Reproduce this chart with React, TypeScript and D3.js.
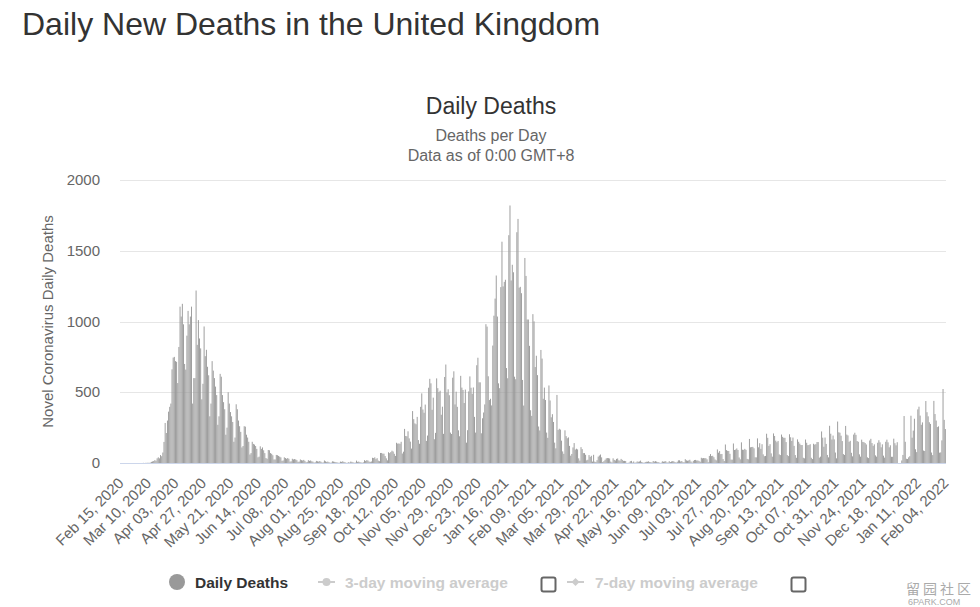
import * as d3 from 'd3';

const W = 980;
const H = 607;
const M = { left: 120, right: 946, top: 180, bottom: 463 };

const startDate = new Date(2020, 1, 15);

// daily reported deaths, rows are weeks Mon..Sun (first row is Sat/Sun)
const early2020 = [
  0, 0,
  0, 0, 0, 0, 0, 0, 0,
  0, 0, 0, 0, 0, 0, 0,
  0, 0, 0, 0, 1, 0, 1,
  1, 2, 1, 3, 8, 11, 14,
  20, 16, 33, 40, 33, 56, 48,
];
const wave1 = [
  74, 149, 283, 212, 300, 363, 397,
  420, 662, 745, 750, 720, 715, 565,
  820, 1105, 1035, 1125, 980, 700, 660,
  900, 1075, 980, 1035, 1105, 420, 600,
  600, 1219, 835, 1010, 880, 810, 450,
  560, 965, 755, 800, 680, 620, 330,
  420, 720, 653, 600, 540, 480, 270,
  330, 630, 610, 480, 430, 380, 200,
  250, 500, 420, 360, 330, 290, 150,
  180, 415, 380, 300, 260, 220, 110,
  120, 260, 257, 200, 180, 150, 60,
  70, 150, 135, 130, 120, 100, 40,
];
const summer2020 = [
  45, 118, 100, 110, 90, 70, 35,
  30, 92, 90, 70, 65, 55, 25,
  25, 57, 55, 50, 45, 40, 15,
  18, 40, 35, 30, 35, 30, 10,
  12, 30, 25, 28, 25, 20, 8,
  10, 25, 20, 18, 22, 15, 5,
  8, 20, 15, 18, 12, 10, 3,
  5, 15, 12, 10, 14, 9, 3,
  4, 18, 12, 8, 10, 6, 2,
  3, 12, 10, 8, 6, 5, 2,
  2, 10, 8, 12, 8, 6, 1,
  2, 5, 3, 10, 8, 5, 2,
  3, 17, 8, 10, 6, 4, 2,
  5, 20, 15, 20, 18, 10, 8,
  11, 37, 35, 40, 27, 34, 17,
  13, 71, 71, 66, 66, 49, 33,
];
const wave2 = [
  19, 76, 70, 77, 87, 81, 65,
  50, 143, 137, 138, 136, 150, 67,
  80, 241, 191, 189, 224, 174, 151,
  102, 367, 310, 280, 274, 326, 162,
  136, 397, 492, 378, 355, 413, 156,
  194, 532, 595, 563, 376, 462, 168,
  213, 598, 529, 501, 511, 341, 398,
  206, 608, 696, 498, 521, 479, 215,
  205, 603, 648, 414, 504, 397, 231,
  189, 616, 533, 516, 424, 519, 144,
  232, 506, 612, 532, 489, 534, 326,
  215, 691, 744, 570, 570, 210, 316,
  357, 414, 981, 964, 613, 445, 454,
  407, 830, 1041, 1162, 1325, 1035, 563,
  529, 1243, 1564, 1248, 1280, 1295, 671,
  599, 1610, 1820, 1290, 1401, 1348, 610,
  592, 1631, 1725, 1239, 1245, 1200, 587,
  406, 1449, 1322, 1014, 1014, 828, 373,
  333, 1052, 1001, 678, 758, 621, 258,
  230, 799, 738, 454, 533, 445, 215,
  178, 548, 442, 323, 345, 290, 144,
  104, 481, 233, 242, 236, 158, 82,
  65, 231, 190, 175, 181, 121, 52,
  64, 110, 141, 95, 101, 96, 33,
  17, 112, 98, 70, 70, 58, 19,
];
const spring2021 = [
  23, 56, 43, 51, 10, 58, 10,
  7, 20, 45, 53, 60, 40, 7,
  13, 23, 33, 35, 34, 32, 10,
  4, 33, 22, 18, 29, 32, 19,
  17, 29, 22, 15, 15, 14, 1,
  1, 4, 13, 15, 3, 11, 2,
  4, 11, 9, 11, 17, 7, 4,
  1, 7, 9, 9, 12, 7, 6,
  4, 14, 10, 13, 10, 6, 6,
  0, 3, 12, 9, 11, 13, 4,
  4, 13, 7, 11, 13, 12, 7,
  3, 9, 19, 19, 11, 14, 6,
  5, 27, 19, 16, 18, 23, 11,
  3, 15, 21, 22, 18, 18, 15,
  9, 37, 33, 35, 34, 34, 26,
];
const delta2021 = [
  6, 50, 63, 49, 51, 41, 25,
  19, 96, 73, 84, 63, 64, 28,
  14, 131, 91, 86, 85, 65, 24,
  24, 138, 92, 95, 103, 92, 39,
  26, 146, 94, 93, 100, 93, 29,
  26, 170, 111, 113, 114, 104, 40,
  40, 174, 111, 140, 100, 133, 61,
  48, 50, 207, 178, 121, 133, 68,
  45, 209, 191, 158, 147, 156, 61,
  56, 201, 185, 178, 178, 148, 56,
  49, 203, 182, 156, 180, 121, 56,
  37, 167, 150, 137, 127, 127, 37,
  33, 166, 143, 126, 127, 133, 37,
  28, 136, 130, 133, 148, 148, 38,
  45, 223, 179, 115, 180, 135, 57,
  40, 263, 207, 166, 194, 167, 74,
  33, 293, 217, 214, 193, 155, 63,
  57, 262, 201, 195, 150, 157, 72,
  47, 201, 214, 199, 155, 150, 61,
  45, 165, 149, 147, 141, 131, 40,
  35, 159, 171, 141, 121, 132, 54,
  45, 143, 161, 146, 111, 132, 52,
  38, 150, 165, 146, 111, 125, 44,
  44, 172, 140, 125, 147, 0, 0,
  0, 18, 57, 332, 150, 30, 28,
];
const omicron2022 = [
  40, 48, 334, 179, 229, 313, 97,
  77, 379, 398, 335, 270, 287, 88,
  85, 438, 359, 330, 288, 276, 74,
  56, 439, 346, 300, 254, 259, 73,
  75, 160, 523, 305, 240,
];

const deaths = [...early2020, ...wave1, ...summer2020, ...wave2, ...spring2021, ...delta2021, ...omicron2022];
const yTicks = [0, 500, 1000, 1500, 2000];
const tickEvery = 24;

const FONT = '"Liberation Sans", Arial, Helvetica, sans-serif';

export default function App() {
  const x = d3.scaleBand<number>().domain(d3.range(deaths.length)).range([M.left, M.right]).padding(0);
  const y = d3.scaleLinear([0, 2000], [M.bottom, M.top]);
  const bw = x.bandwidth();
  const fmt = d3.timeFormat('%b %d, %Y');
  const xTicks = d3.range(0, deaths.length, tickEvery);

  return (
    <div style={{ position: 'absolute', left: 0, top: 0 }}>
      <svg width={W} height={H} style={{ display: 'block', fontFamily: FONT, background: '#fff' }}>
        <text x={22} y={35} fontSize={32} fill="#333">Daily New Deaths in the United Kingdom</text>

        <text x={491} y={114} fontSize={23} fill="#333" textAnchor="middle">Daily Deaths</text>
        <text x={491} y={141} fontSize={16} fill="#666" textAnchor="middle">Deaths per Day</text>
        <text x={491} y={161} fontSize={16} fill="#666" textAnchor="middle">Data as of 0:00 GMT+8</text>

        {/* grid + y labels */}
        {yTicks.map(t => (
          <g key={t}>
            {t > 0 && <line x1={M.left} x2={M.right} y1={Math.round(y(t)) + 0.5} y2={Math.round(y(t)) + 0.5} stroke="#e6e6e6" />}
            <text x={100} y={y(t) + 5} fontSize={15} fill="#666" textAnchor="end">{t}</text>
          </g>
        ))}
        <text transform={`translate(53,${(M.top + M.bottom) / 2}) rotate(-90)`} fontSize={15} fill="#666" textAnchor="middle">
          Novel Coronavirus Daily Deaths
        </text>

        {/* bars */}
        <g fill="#999">
          {deaths.map((v, i) => v > 0 && (
            <rect key={i} x={x(i)!} width={bw * 0.82} y={y(v)} height={M.bottom - y(v)} />
          ))}
        </g>

        <line x1={M.left} x2={M.right} y1={M.bottom + 0.5} y2={M.bottom + 0.5} stroke="#ccd6eb" />

        {/* x labels */}
        {xTicks.map(i => {
          const cx = x(i)! + bw / 2 + 4;
          const cy = 484;
          return (
            <text key={i} transform={`translate(${cx},${cy}) rotate(-45)`} fontSize={15} fill="#666" textAnchor="end">
              {fmt(d3.timeDay.offset(startDate, i))}
            </text>
          );
        })}

        {/* legend */}
        <circle cx={177} cy={582} r={8} fill="#999" />
        <text x={195} y={588} fontSize={15.5} fontWeight="bold" fill="#333">Daily Deaths</text>

        <line x1={318} x2={335} y1={582} y2={582} stroke="#ccc" strokeWidth={2} />
        <circle cx={326.5} cy={582} r={4} fill="#ccc" />
        <text x={345} y={588} fontSize={15.5} fontWeight="bold" fill="#ccc">3-day moving average</text>
        <rect x={541.5} y={577.5} width={14} height={14} rx={2} fill="#fff" stroke="#666" strokeWidth={2} />

        <line x1={567} x2={584} y1={582} y2={582} stroke="#ccc" strokeWidth={2} />
        <path d="M575.5,578 L579.5,582 L575.5,586 L571.5,582 Z" fill="#ccc" />
        <text x={595} y={588} fontSize={15.5} fontWeight="bold" fill="#ccc">7-day moving average</text>
        <rect x={791.5} y={577.5} width={14} height={14} rx={2} fill="#fff" stroke="#666" strokeWidth={2} />

        {/* watermark */}
        <text x={906} y={594} fontSize={14} fill="#aaa" letterSpacing={3} fontFamily='"Noto Sans CJK SC", sans-serif'>留园社区</text>
        <text x={908} y={605} fontSize={9} fill="#aaa">6PARK.COM</text>
      </svg>
    </div>
  );
}
